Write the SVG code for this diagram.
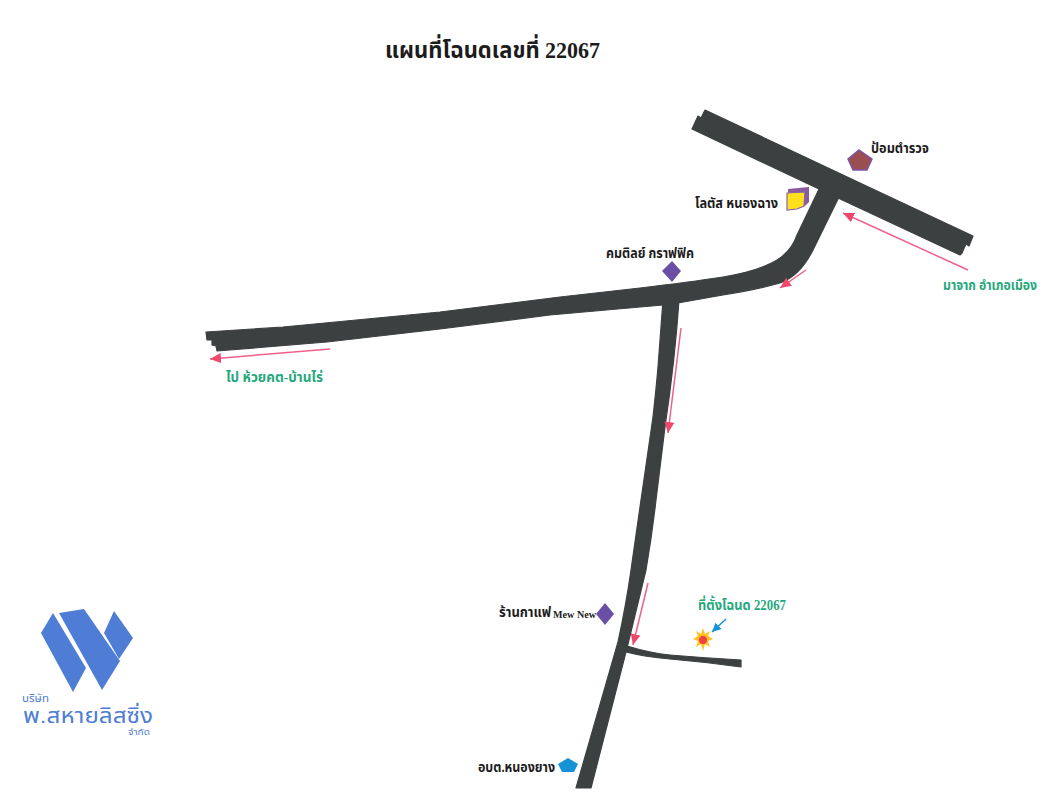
<svg xmlns="http://www.w3.org/2000/svg" width="1060" height="800" viewBox="0 0 1060 800">
<defs>
<marker id="ah" markerUnits="userSpaceOnUse" markerWidth="12" markerHeight="10" refX="11" refY="5" orient="auto"><path d="M0 0L11 5L0 10Z" fill="#f0476b"/></marker>
<marker id="ab" markerUnits="userSpaceOnUse" markerWidth="10" markerHeight="9" refX="9" refY="4.500" orient="auto"><path d="M0 0L9 4.500L0 9Z" fill="#1593d6"/></marker>
</defs>
<style>
.road{fill:#3d4040;stroke:#3d4040;stroke-width:1.200;stroke-linejoin:round}
.t{font-family:"Liberation Serif","Noto Sans Thai","DejaVu Sans",serif;font-weight:700;fill:#1c1c1c;font-size:14px}
.g{fill:#25a87c}
.arrow{fill:none;stroke:#f0608a;stroke-width:1.500;marker-end:url(#ah)}
.dia{fill:#6a50a5}
.logo{fill:#4f7dd6}
.lt{font-family:"Liberation Sans","Noto Sans Thai","DejaVu Sans",sans-serif;fill:#4f7dd6}
</style>
<rect width="1060" height="800" fill="#ffffff"/>
<text id="title" class="t" x="385" y="58" style="font-size:23px" textLength="215" lengthAdjust="spacingAndGlyphs">แผนที่โฉนดเลขที่ 22067</text>
<g id="roads">
<path id="road-main" class="road" d="M705 110L877 191L973 236L969 246L966 244L962 253L960 255L838 198L692 129L698 116L701 118Z"/>
<path id="road-west" class="road" d="M206 332L283 327L440 312L560 297L640 288Q690 282 723 277Q752 272 767 265Q790 256 797 235L820 187L839 197L813 250Q800 276 780 283Q755 290 723 295L678 303L663 305L550 315L440 329L327 342L217 351L216 346L212 345L212 340L207 340Z"/>
<path id="road-south" class="road" d="M663 300L679 300Q675 360 665 427L656 500Q652 535 646 570L627 648L591 788L576 788L618 642Q626 605 631 570L641 500L653 417Q656 390 658 367Z"/>
<path id="road-side" class="road" d="M627 646Q650 653 670 655Q705 658 741 660L741 667Q705 662 670 659Q645 657 626 652Z"/>
</g>
<g id="connectors">
<path class="arrow" d="M968 270L843 213"/>
<path class="arrow" d="M806 270L780 288"/>
<path class="arrow" d="M330 349L210 359"/>
<path class="arrow" d="M681 328L668 433"/>
<path class="arrow" d="M648 583L633 645"/>
<path d="M726 619L712 632" fill="none" stroke="#1593d6" stroke-width="1.500" marker-end="url(#ab)"/>
</g>
<g id="node-police">
<path d="M859 150L872 159L867 170L853 170L848 159Z" fill="#9a4e50" stroke="#7a55a8" stroke-width="1.500"/>
<text class="t" x="871" y="153" textLength="58" lengthAdjust="spacingAndGlyphs">ป้อมตำรวจ</text>
</g>
<g id="node-lotus">
<path d="M788 189L809 187L809 202L805 206L788 208Z" fill="#8a5a9c"/>
<path d="M787 193L805 192L804 206L797 209L787 210Z" fill="#ffe01a" stroke="#8a62b0" stroke-width="1.200"/>
<text class="t" x="695" y="208" textLength="83" lengthAdjust="spacingAndGlyphs">โลตัส หนองฉาง</text>
</g>
<g id="node-graphic">
<path class="dia" d="M672 261L681 271L672 282L662 271Z"/>
<text class="t" x="606" y="258" textLength="88" lengthAdjust="spacingAndGlyphs">คมติลย์ กราฟฟิค</text>
</g>
<g id="node-cafe">
<path class="dia" d="M605 603L614 614L605 625L596 614Z"/>
<text class="t" x="499" y="617" textLength="52" lengthAdjust="spacingAndGlyphs">ร้านกาแฟ</text>
<text class="t" x="553" y="618" style="font-size:10px" textLength="43" lengthAdjust="spacingAndGlyphs">Mew New</text>
</g>
<g id="node-sao">
<path d="M568 758L578 764L574 772L562 772L558 764Z" fill="#1593d6"/>
<text class="t" x="478" y="772" textLength="77" lengthAdjust="spacingAndGlyphs">อบต.หนองยาง</text>
</g>
<g id="node-site">
<path d="M703 628L705 634L710 631L708 636L713 639L708 641L710 647L705 644L703 651L701 644L696 647L698 641L693 639L698 636L696 631L701 634Z" fill="#ffc21f"/>
<circle cx="703" cy="640" r="4" fill="#f04040"/>
<text class="t g" x="698" y="610" textLength="88" lengthAdjust="spacingAndGlyphs">ที่ตั้งโฉนด 22067</text>
</g>
<g id="label-from"><text class="t g" x="943" y="290" textLength="94" lengthAdjust="spacingAndGlyphs">มาจาก อำเภอเมือง</text></g>
<g id="label-to"><text class="t g" x="226" y="382" textLength="97" lengthAdjust="spacingAndGlyphs">ไป ห้วยคต-บ้านไร่</text></g>
<g id="logo">
<path class="logo" d="M53 613L86 668L73 692L41 633Z"/>
<path class="logo" d="M59 613L84 609L120 661L102 690Z"/>
<path class="logo" d="M114 611L133 638L119 659L104 633Z"/>
<text class="lt" x="22" y="702" style="font-size:10px" textLength="27" lengthAdjust="spacingAndGlyphs">บริษัท</text>
<text class="lt" x="23" y="723" style="font-size:21px" textLength="130" lengthAdjust="spacingAndGlyphs">พ.สหายลิสซิ่ง</text>
<text class="lt" x="128" y="735" style="font-size:8px" textLength="22" lengthAdjust="spacingAndGlyphs">จำกัด</text>
</g>
</svg>
